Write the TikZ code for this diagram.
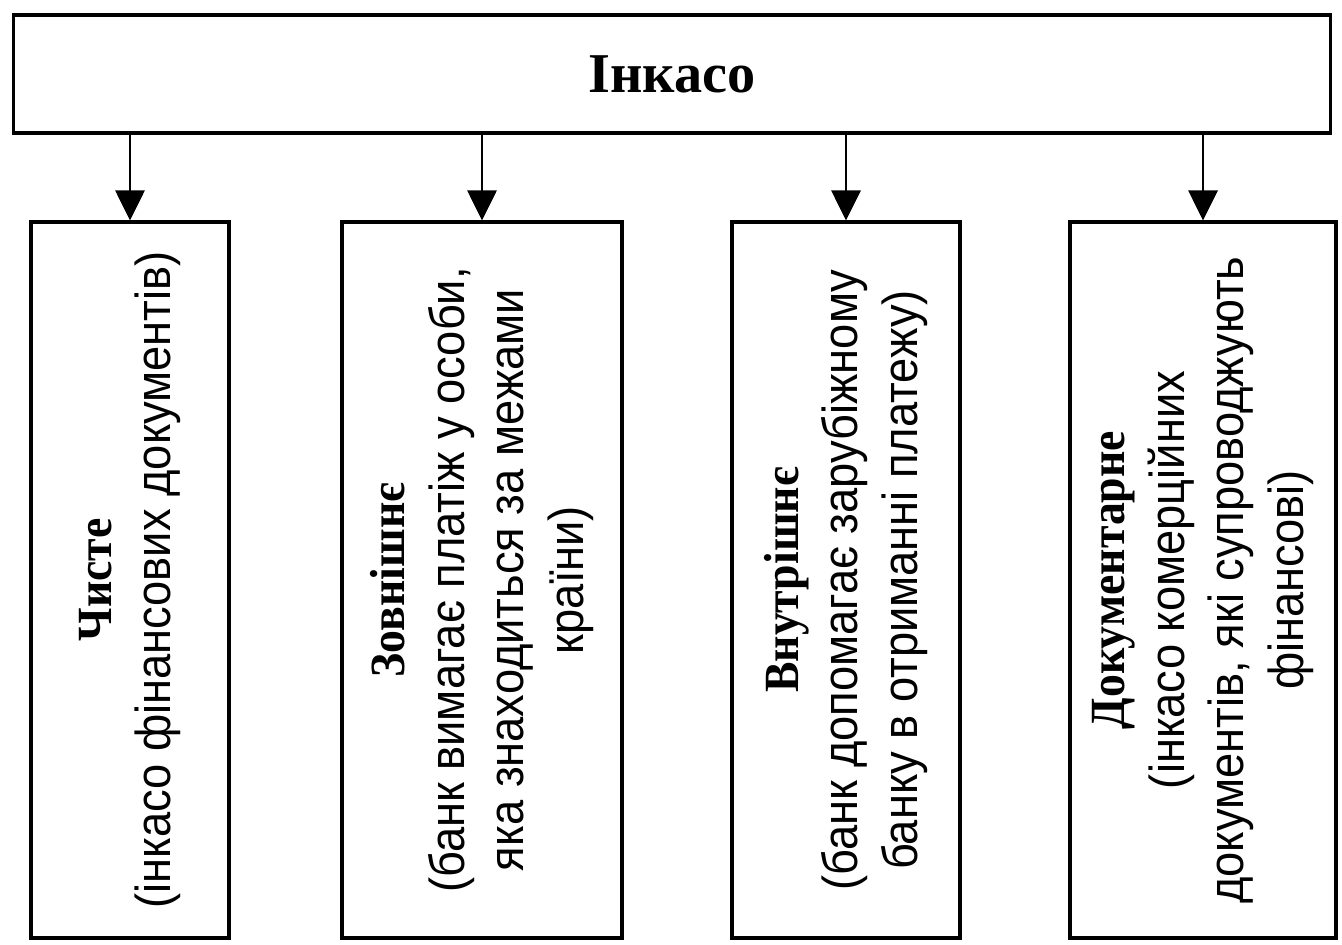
\documentclass[tikz,border=0pt]{standalone}
\usepackage{fontspec}
\setmainfont{Liberation Serif}
\newfontfamily\narrowsans[FakeStretch=0.92]{Liberation Sans}
\newfontfamily\narrowserif[FakeStretch=0.93]{Liberation Serif}
\usetikzlibrary{arrows.meta,positioning}

\begin{document}
\begin{tikzpicture}[x=0.02cm,y=-0.02cm,
    headbox/.style={
% The shape:
rectangle,
% The size:
minimum width=26.34cm,
minimum height=2.36cm,
% The border:
line width=1.8pt, draw,
% The text:
font=\fontsize{32}{36}\selectfont\bfseries,
},
    kindbox/.style={
% The shape:
rectangle, rotate=90,
% The size:
minimum width=14.32cm,
% The border:
line width=1.8pt, draw,
% The text:
align=center, font=\narrowsans\fontsize{28}{34}\selectfont,
},
    link/.style={-{Triangle[width=0.58cm,length=0.6cm]}, line width=1.6pt},
]
  \useasboundingbox (0,0) rectangle (1342,945);
  \node[headbox] (inkaso) at (672,74) {Інкасо};
  \node[kindbox, minimum height=3.96cm] (chyste) at (130,580)
    {{\narrowserif\bfseries Чисте}\\(інкасо фінансових документів)};
  \node[kindbox, minimum height=5.6cm] (zovnishnie) at (482,580)
    {{\narrowserif\bfseries Зовнішнє}\\(банк вимагає платіж у особи,\\яка знаходиться за межами\\країни)};
  \node[kindbox, minimum height=4.56cm] (vnutrishnie) at (846,580)
    {{\narrowserif\bfseries Внутрішнє}\\(банк допомагає зарубіжному\\банку в отриманні платежу)};
  \node[kindbox, minimum height=5.32cm] (dokumentarne) at (1203,580)
    {{\narrowserif\bfseries Документарне}\\(інкасо комерційних\\документів, які супроводжують\\фінансові)};
  \draw [link] (inkaso.south -| chyste.east) -- (chyste.east);
  \draw [link] (inkaso.south -| zovnishnie.east) -- (zovnishnie.east);
  \draw [link] (inkaso.south -| vnutrishnie.east) -- (vnutrishnie.east);
  \draw [link] (inkaso.south -| dokumentarne.east) -- (dokumentarne.east);

\end{tikzpicture}
\end{document}
